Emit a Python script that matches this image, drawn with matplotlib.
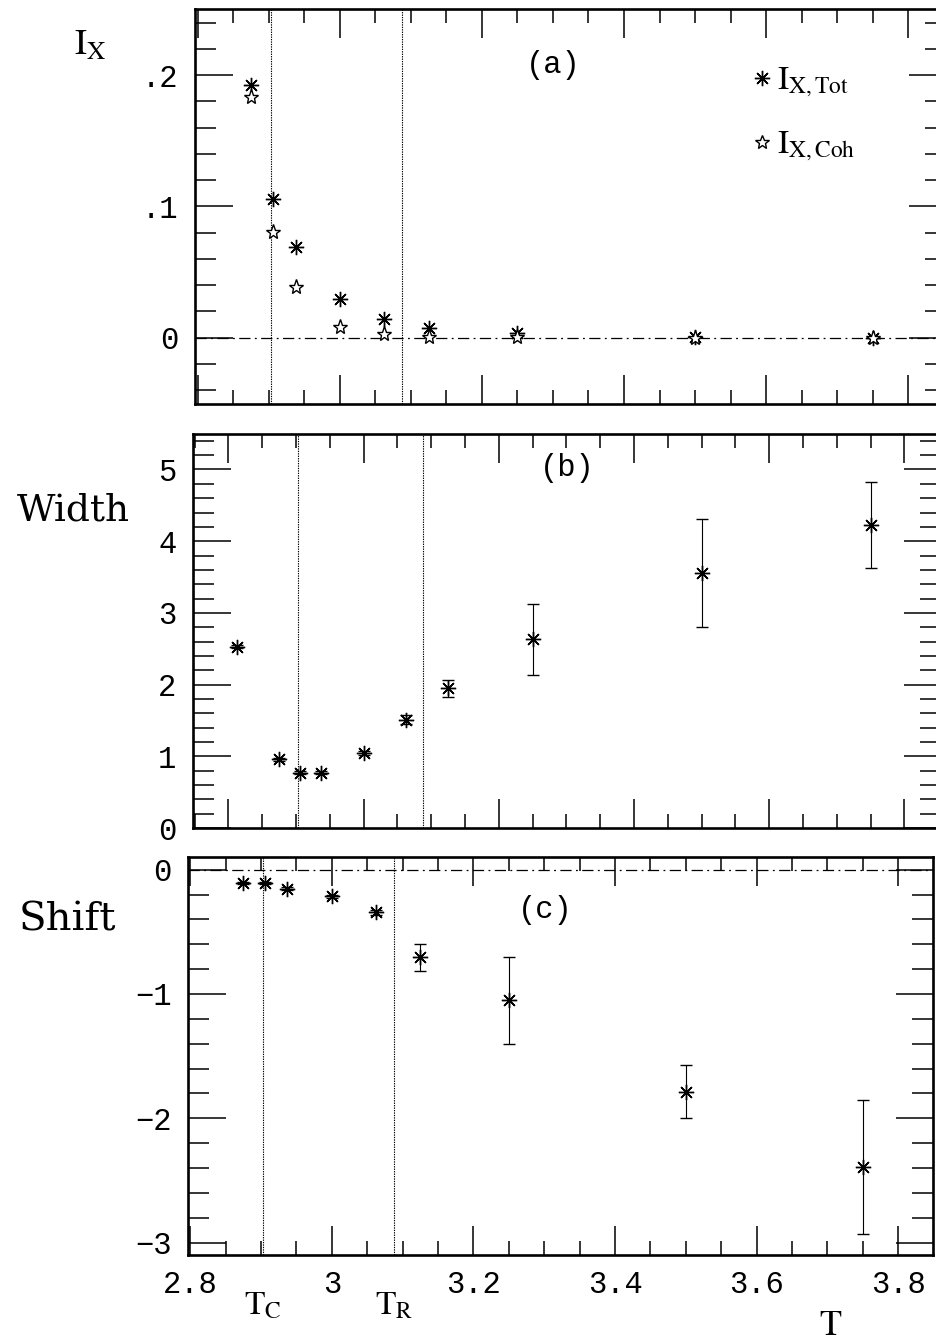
import matplotlib
matplotlib.use("Agg")
import matplotlib.pyplot as plt
from matplotlib.ticker import MultipleLocator, FixedLocator, FixedFormatter
from matplotlib.lines import Line2D

# Temperatures of the simulated points
T = [2.875, 2.90625, 2.9375, 3.0, 3.0625, 3.125, 3.25, 3.5, 3.75]
T_width = [2.8125, 2.875, 2.90625, 2.9375, 3.0, 3.0625, 3.125, 3.25, 3.5, 3.75]
T_C = 2.903
T_R = 3.088

# (a) intensities
ix_tot = [0.1925, 0.1054, 0.0689, 0.0295, 0.0140, 0.0072, 0.0034, 0.0005, 0.0]
ix_coh = [0.1830, 0.0807, 0.0384, 0.0084, 0.0026, 0.0003, 0.0002, 0.0, 0.0]

# (b) widths
width = [2.53, 0.96, 0.77, 0.77, 1.05, 1.51, 1.95, 2.63, 3.56, 4.22]
width_err = [0.02, 0.02, 0.02, 0.02, 0.03, 0.06, 0.12, 0.49, 0.75, 0.60]

# (c) shifts
shift = [-0.107, -0.107, -0.153, -0.215, -0.344, -0.706, -1.052, -1.785, -2.389]
shift_err = [0.01, 0.01, 0.01, 0.01, 0.02, 0.11, 0.35, 0.21, 0.54]

x_ticks = [2.8, 3.0, 3.2, 3.4, 3.6, 3.8]
x_tick_labels = ["2.8", "3", "3.2", "3.4", "3.6", "3.8"]
ix_ticks = [0.0, 0.1, 0.2]
ix_tick_labels = ["0", ".1", ".2"]
width_ticks = [0, 1, 2, 3, 4, 5]
width_tick_labels = ["0", "1", "2", "3", "4", "5"]
shift_ticks = [-3, -2, -1, 0]
shift_tick_labels = ["\u22123", "\u22122", "\u22121", "0"]

plt.rcParams["mathtext.fontset"] = "stix"
MONO = "Liberation Mono"
SERIF = "DejaVu Serif"

W, H = 937, 1344
fig = plt.figure(figsize=(W / 100, H / 100), dpi=100)


def px_axes(left, top, right, bottom):
    return fig.add_axes([left / W, 1 - bottom / H, (right - left) / W, (bottom - top) / H])


ax_a = px_axes(195, 9, 946, 404)
ax_b = px_axes(193, 434, 941, 828)
ax_c = px_axes(188, 857, 933, 1255)

asterisk = (8, 2, 0)
dashdot = (0, (9, 3.5, 1.5, 3.5))
dotted = (0, (1.2, 1.0))


def style_axes(ax, yticks, ylabels, yminor, show_x_labels):
    for s in ax.spines.values():
        s.set_linewidth(1.9)
    ax.xaxis.set_major_locator(FixedLocator(x_ticks))
    ax.xaxis.set_minor_locator(MultipleLocator(0.05))
    ax.yaxis.set_major_locator(FixedLocator(yticks))
    ax.yaxis.set_major_formatter(FixedFormatter(ylabels))
    ax.yaxis.set_minor_locator(MultipleLocator(yminor))
    ax.tick_params(axis="x", which="major", direction="in", length=21, width=1.1,
                   top=True, bottom=True, pad=11)
    ax.tick_params(axis="x", which="minor", direction="in", length=10, width=1.1,
                   top=True, bottom=True)
    ax.tick_params(axis="y", which="major", direction="in", length=27, width=1.1,
                   left=True, right=True, pad=12)
    ax.tick_params(axis="y", which="minor", direction="in", length=15, width=1.1,
                   left=True, right=True)
    if show_x_labels:
        ax.xaxis.set_major_formatter(FixedFormatter(x_tick_labels))
    else:
        ax.set_xticklabels([])
    for lab in ax.get_xticklabels() + ax.get_yticklabels():
        lab.set_fontfamily(MONO)
        lab.set_fontsize(22)


# ---- (a) intensity ----
ax_a.set_xlim(2.7958, 3.8535)
ax_a.set_ylim(-0.0505, 0.2503)
style_axes(ax_a, ix_ticks, ix_tick_labels, 0.02, False)
ax_a.axhline(0, color="black", lw=0.9, ls=dashdot)
ax_a.axvline(T_C, color="black", lw=0.8, ls=dotted)
ax_a.axvline(T_R, color="black", lw=0.8, ls=dotted)
ax_a.plot(T, ix_tot, ls="none", marker=asterisk, ms=11, mew=1.0, color="black")
ax_a.plot(T, ix_coh, ls="none", marker="*", ms=11, mew=1.0, mfc="white", mec="black")
ax_a.text(0.477, 0.858, "(a)", transform=ax_a.transAxes, ha="center", va="center",
          fontsize=22, family=MONO)
handles = [
    Line2D([], [], ls="none", marker=asterisk, ms=11, mew=1.0, color="black"),
    Line2D([], [], ls="none", marker="*", ms=10, mew=1.0, mfc="white", mec="black"),
]
ax_a.legend(handles, [r"$\mathrm{I_{X,Tot}}$", r"$\mathrm{I_{X,Coh}}$"],
            loc="upper left", bbox_to_anchor=(0.72, 0.905), frameon=False,
            fontsize=24, handlelength=0.6, handletextpad=0.15, labelspacing=0.85,
            borderpad=0)
ax_a.text(-0.14, 0.909, r"$\mathrm{I_X}$", transform=ax_a.transAxes,
          ha="center", va="center", fontsize=26)

# ---- (b) width ----
ax_b.set_xlim(2.7475, 3.854)
ax_b.set_ylim(0, 5.495)
style_axes(ax_b, width_ticks, width_tick_labels, 0.2, False)
ax_b.axvline(T_C, color="black", lw=0.8, ls=dotted)
ax_b.axvline(T_R, color="black", lw=0.8, ls=dotted)
ax_b.errorbar(T_width, width, yerr=width_err, ls="none", marker=asterisk, ms=11,
              mew=1.0, color="black", elinewidth=0.8, capsize=4, capthick=0.8)
ax_b.text(0.5, 0.914, "(b)", transform=ax_b.transAxes, ha="center", va="center",
          fontsize=22, family=MONO)
ax_b.text(-0.160, 0.805, "Width", transform=ax_b.transAxes, ha="center", va="center",
          fontsize=27, family=SERIF)

# ---- (c) shift ----
ax_c.set_xlim(2.797, 3.849)
ax_c.set_ylim(-3.1, 0.102)
style_axes(ax_c, shift_ticks, shift_tick_labels, 0.2, True)
ax_c.axhline(0, color="black", lw=0.9, ls=dashdot)
ax_c.axvline(T_C, color="black", lw=0.8, ls=dotted)
ax_c.axvline(T_R, color="black", lw=0.8, ls=dotted)
ax_c.errorbar(T, shift, yerr=shift_err, ls="none", marker=asterisk, ms=11,
              mew=1.0, color="black", elinewidth=0.8, capsize=4, capthick=0.8)
ax_c.text(0.479, 0.867, "(c)", transform=ax_c.transAxes, ha="center", va="center",
          fontsize=22, family=MONO)
ax_c.text(-0.162, 0.842, "Shift", transform=ax_c.transAxes, ha="center", va="center",
          fontsize=29, family=SERIF)

blend = matplotlib.transforms.blended_transform_factory(ax_c.transData, ax_c.transAxes)
ax_c.text(T_C, -0.126, r"$\mathrm{T_C}$", transform=blend, ha="center", va="center",
          fontsize=24)
ax_c.text(T_R, -0.126, r"$\mathrm{T_R}$", transform=blend, ha="center", va="center",
          fontsize=24)
ax_c.text(0.862, -0.176, r"$\mathrm{T}$", transform=ax_c.transAxes, ha="center",
          va="center", fontsize=26)

fig.savefig("out.png", dpi=100)
